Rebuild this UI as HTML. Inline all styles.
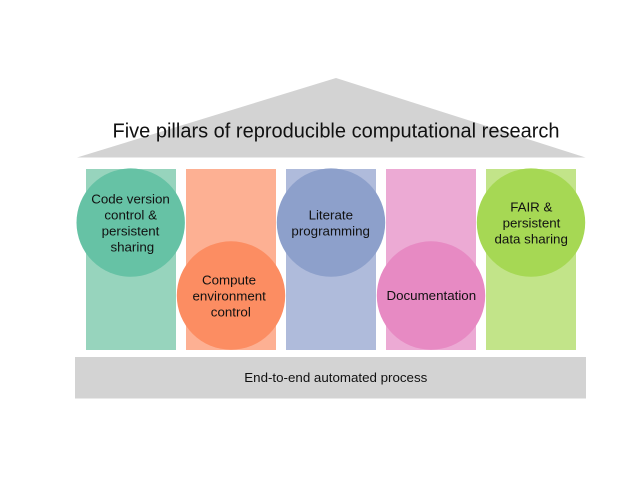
<!DOCTYPE html>
<html>
<head>
<meta charset="utf-8">
<style>
html,body{margin:0;padding:0;background:#fff;width:640px;height:480px;overflow:hidden}
svg{display:block}
text{font-family:"Liberation Sans",Arial,sans-serif;fill:#111;text-anchor:middle}
.l{font-size:13.33px}
</style>
</head>
<body>
<svg width="640" height="480" viewBox="0 0 640 480" xmlns="http://www.w3.org/2000/svg">
<rect width="640" height="480" fill="#fff"/>
<polygon points="336,78 585.5,157.5 77,157.5" fill="#d3d3d3"/>
<rect x="86" y="169" width="90" height="181" fill="#97d4bd"/>
<rect x="186" y="169" width="90" height="181" fill="#fdb093"/>
<rect x="286" y="169" width="90" height="181" fill="#afbbdb"/>
<rect x="386" y="169" width="90" height="181" fill="#ecaad4"/>
<rect x="486" y="169" width="90" height="181" fill="#c2e489"/>
<rect x="75" y="357" width="511" height="41.5" fill="#d3d3d3"/>
<circle cx="130.7" cy="222.6" r="54.2" fill="#66c2a5"/>
<circle cx="231" cy="295.5" r="54.2" fill="#fc8d62"/>
<circle cx="331" cy="222.6" r="54.2" fill="#8da0cb"/>
<circle cx="431" cy="295.5" r="54.2" fill="#e78ac3"/>
<circle cx="531" cy="222.6" r="54.2" fill="#a6d854"/>
<text x="336" y="137.5" font-size="20" textLength="447" lengthAdjust="spacing">Five pillars of reproducible computational research</text>
<text class="l" x="130.5" y="203.5">Code version</text>
<text class="l" x="130.7" y="219.5">control &amp;</text>
<text class="l" x="130.5" y="235.5">persistent</text>
<text class="l" x="132.3" y="251.5">sharing</text>
<text class="l" x="229" y="284.3">Compute</text>
<text class="l" x="229.2" y="300.3">environment</text>
<text class="l" x="230.8" y="316.3">control</text>
<text class="l" x="330.8" y="219.7">Literate</text>
<text class="l" x="330.7" y="235.7">programming</text>
<text class="l" x="431.3" y="300">Documentation</text>
<text class="l" x="531.3" y="211.5">FAIR &amp;</text>
<text class="l" x="531.5" y="227.5">persistent</text>
<text class="l" x="531.2" y="243.5">data sharing</text>
<text class="l" x="335.8" y="382">End-to-end automated process</text>
</svg>
</body>
</html>
